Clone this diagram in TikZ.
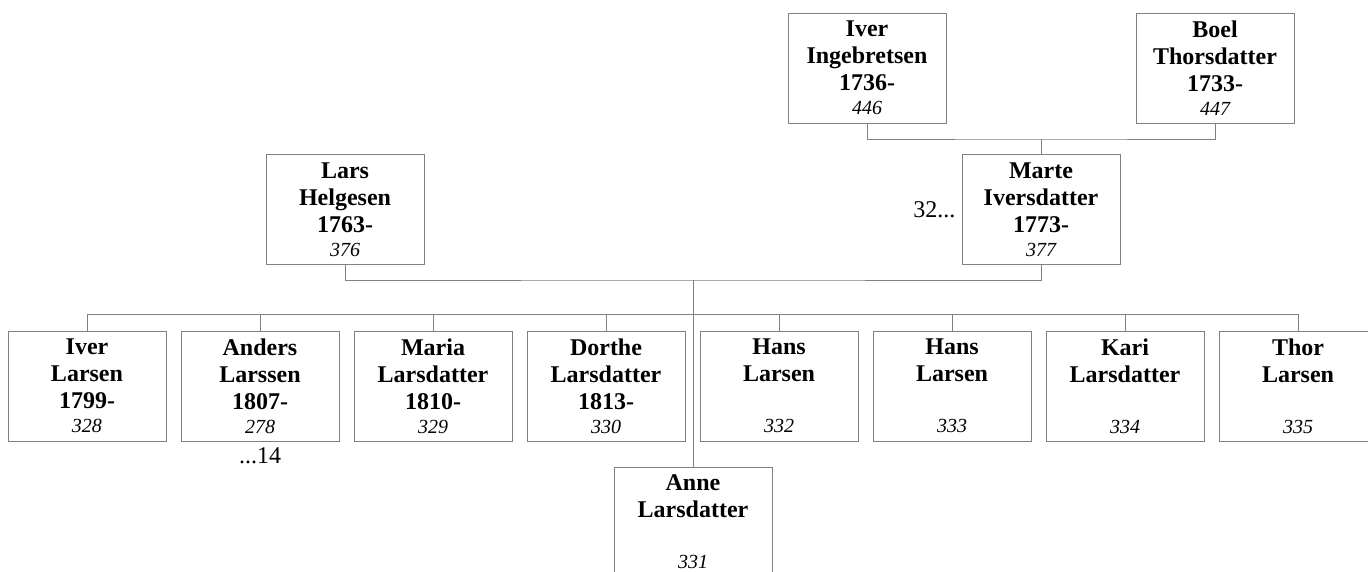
\documentclass[tikz,border=0pt]{standalone}
\usepackage{fontspec}
\setmainfont{Liberation Serif}
\usepackage{xcolor}
\usetikzlibrary{positioning}

\definecolor{linegray}{RGB}{128,128,128}

\tikzset{
    person/.style={draw=linegray, line width=1pt, minimum width=158pt, minimum height=110pt,
        inner sep=0pt, text width=156pt, align=center, font=\fontsize{24}{27}\selectfont\bfseries},
    link/.style={draw=linegray, line width=1pt},
    note/.style={font=\fontsize{24}{27}\selectfont, inner sep=0pt}
}
\newcommand{\refno}[1]{\\[-3pt]{\fontsize{20}{24}\selectfont\mdseries\itshape #1}}

\begin{document}
\begin{tikzpicture}[x=1pt, y=-1pt]
    \useasboundingbox (0,0) rectangle (1368,571);
    \clip (0,0) rectangle (1368,571);

    % grandparents
    \node[person] (ingebretsen) at (867,68) {Iver\\Ingebretsen\\1736-\refno{446}};
    \node[person] (boel) at (1215,68) {Boel\\Thorsdatter\\1733-\refno{447}};

    % parents
    \node[person] (lars) at (345,209.5) {Lars\\Helgesen\\1763-\refno{376}};
    \node[person] (marte) at (1041,209.5) {Marte\\Iversdatter\\1773-\refno{377}};
    \node[note, left=6pt of marte] (marteref) {32...};

    % children
    \foreach \i/\txt in {1/{Iver\\Larsen\\1799-\refno{328}},
                         2/{Anders\\Larssen\\1807-\refno{278}},
                         3/{Maria\\Larsdatter\\1810-\refno{329}},
                         4/{Dorthe\\Larsdatter\\1813-\refno{330}},
                         5/{Hans\\Larsen\\~\refno{332}},
                         6/{Hans\\Larsen\\~\refno{333}},
                         7/{Kari\\Larsdatter\\~\refno{334}},
                         8/{Thor\\Larsen\\~\refno{335}}} {
        \pgfmathsetmacro{\x}{87 + 173*(\i-1)}
        \node[person] (c\i) at (\x,386) {\txt};
    }
    \node[person] (anne) at (693,522) {Anne\\Larsdatter\\~\refno{331}};
    \node[note, below=6pt of c2] (andersref) {...14};

    % connectors
    \coordinate (elders) at (1041,139);
    \coordinate (couple) at (693,280);
    \coordinate (kids) at (693,314);
    \draw[link] (ingebretsen.south) |- (elders) -| (boel.south);
    \draw[link] (elders) -- (marte.north);
    \draw[link] (lars.south) |- (couple) -| (marte.south);
    \draw[link] (couple) -- (anne.north);
    \draw[link] (c1.north |- kids) -- (c8.north |- kids);
    \foreach \i in {1,...,8} {
        \draw[link] (c\i.north |- kids) -- (c\i.north);
    }
\end{tikzpicture}
\end{document}
